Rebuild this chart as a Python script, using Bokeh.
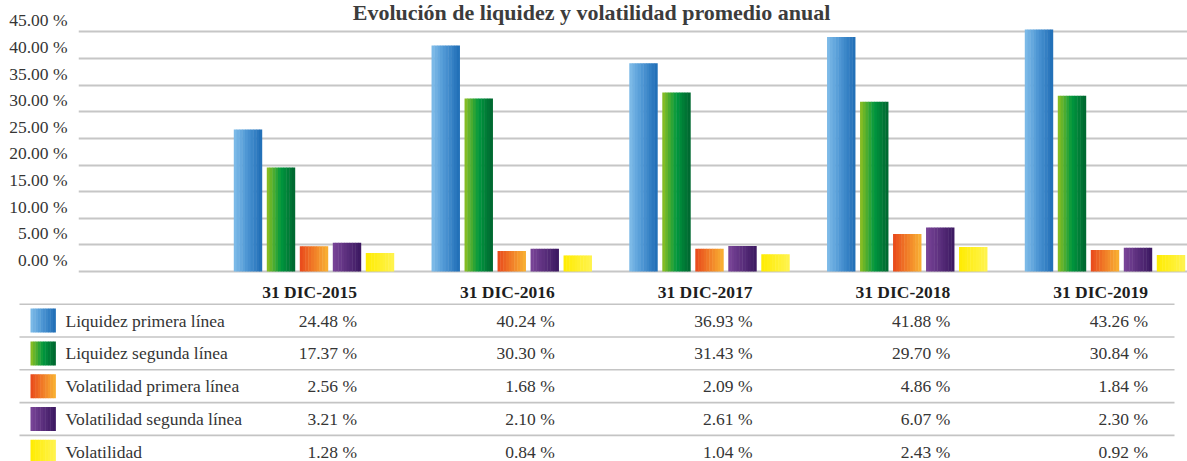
import numpy as np
from bokeh.plotting import figure
from bokeh.models import Range1d, FixedTicker, PrintfTickFormatter, ColumnDataSource, Label
from bokeh.layouts import column
from bokeh.core.properties import value
from bokeh.embed import file_html
from bokeh.resources import INLINE

# ---------------- data ----------------
TITLE = "Evolución de liquidez y volatilidad promedio anual"
categories = ["31 DIC-2015", "31 DIC-2016", "31 DIC-2017", "31 DIC-2018", "31 DIC-2019"]
series_names = ["Liquidez primera línea", "Liquidez segunda línea",
                "Volatilidad primera línea", "Volatilidad segunda línea", "Volatilidad"]
liquidez_primera = [24.48, 40.24, 36.93, 41.88, 43.26]
liquidez_segunda = [17.37, 30.30, 31.43, 29.70, 30.84]
volatilidad_primera = [2.56, 1.68, 2.09, 4.86, 1.84]
volatilidad_segunda = [3.21, 2.10, 2.61, 6.07, 2.30]
volatilidad = [1.28, 0.84, 1.04, 2.43, 0.92]
y_ticks = [0, 5, 10, 15, 20, 25, 30, 35, 40, 45]

series_values = [liquidez_primera, liquidez_segunda, volatilidad_primera,
                 volatilidad_segunda, volatilidad]

# ---------------- styles ----------------
gradients = [
    ["#80bde9", "#4a93d2", "#1f6db5"],
    ["#93c021", "#00983f", "#00652f"],
    ["#e8481c", "#f9b233"],
    ["#7a4599", "#3b1860"],
    ["#ffec00", "#fff350"],
]
SERIF_B = "Liberation Serif"
SERIF = "serif"
TEXT_COLOR = "#353535"
N_STRIPS = 10

# layout (page pixels)
FIG_W = 1187
FRAME_L, FRAME_R = 78, 1187
GROUP0, GROUP_PITCH = 313.5, 197.75
BAR_PITCH_PX, BAR_W_PX = 33.0, 28.0
CH_TOP, CH_BOT = 0, 275
ZERO_Y, PX_PER_PCT, BASE_Y = 259.4, 5.325, 271.0
TB_TOP, TB_BOT = 275, 461


def hex2rgb(h):
    return np.array([int(h[i:i + 2], 16) for i in (1, 3, 5)], dtype=float)


def gradient_colors(stops, n):
    rgb = [hex2rgb(s) for s in stops]
    out = []
    for k in range(n):
        tt = (k + 0.5) / n * (len(rgb) - 1)
        i = min(int(tt), len(rgb) - 2)
        f = tt - i
        c = rgb[i] * (1 - f) + rgb[i + 1] * f
        out.append("#%02x%02x%02x" % tuple(int(round(v)) for v in c))
    return out


# ---------------- chart ----------------
x_start = -(GROUP0 - FRAME_L) / GROUP_PITCH
x_end = x_start + (FRAME_R - FRAME_L) / GROUP_PITCH
y_hi = (ZERO_Y - CH_TOP) / PX_PER_PCT
y_lo = (ZERO_Y - CH_BOT) / PX_PER_PCT
BASE = (ZERO_Y - BASE_Y) / PX_PER_PCT

bar_pitch = BAR_PITCH_PX / GROUP_PITCH
bar_w = BAR_W_PX / GROUP_PITCH

p = figure(width=FIG_W, height=CH_BOT - CH_TOP,
           x_range=Range1d(x_start, x_end), y_range=Range1d(y_lo, y_hi),
           x_axis_location=None, output_backend="svg", toolbar_location=None,
           min_border=0, min_border_left=FRAME_L)
p.frame_align = False
p.outline_line_color = None
p.background_fill_color = "white"
p.xgrid.visible = False
p.ygrid.ticker = FixedTicker(ticks=[BASE + v for v in y_ticks])
p.ygrid.grid_line_color = "#c6c6c6"
p.ygrid.grid_line_width = 2

ax = p.yaxis[0]
ax.ticker = FixedTicker(ticks=y_ticks)
ax.formatter = PrintfTickFormatter(format="%.2f %%")
ax.axis_line_color = None
ax.major_tick_line_color = None
ax.major_tick_out = 0
ax.major_tick_in = 0
ax.minor_tick_line_color = None
ax.major_label_text_font = SERIF
ax.major_label_text_font_size = "17.5px"
ax.major_label_text_color = TEXT_COLOR
ax.major_label_standoff = 11

for j, vals in enumerate(series_values):
    cols = gradient_colors(gradients[j], N_STRIPS)
    xs, tops, colors = [], [], []
    sw = bar_w / N_STRIPS
    for i, v in enumerate(vals):
        left = i + (j - 2) * bar_pitch - bar_w / 2
        for k in range(N_STRIPS):
            xs.append(left + (k + 0.5) * sw)
            tops.append(v)
            colors.append(cols[k])
    src = ColumnDataSource(dict(x=xs, top=tops, color=colors))
    p.vbar(x="x", top="top", bottom=BASE, width=sw * 1.15, fill_color="color",
           line_color=None, source=src)

title_x = x_start + (591 - FRAME_L) / GROUP_PITCH
title_y = (ZERO_Y - 11.5) / PX_PER_PCT
p.add_layout(Label(x=title_x, y=title_y, text=TITLE, text_align="center",
                   text_baseline="alphabetic", text_font=SERIF_B, text_font_style="bold",
                   text_font_size="22px", text_color="#3c3c3c"))

# ---------------- table ----------------
t = figure(width=FIG_W, height=TB_BOT - TB_TOP,
           x_range=Range1d(0, FIG_W), y_range=Range1d(TB_BOT, TB_TOP),
           x_axis_location=None, y_axis_location=None, output_backend="svg",
           toolbar_location=None, min_border=0)
t.frame_align = False
t.outline_line_color = None
t.grid.visible = False

HEADER_Y, FIRST_LINE, ROW_H = 291, 303.7, 32.8
col_right = [GROUP0 + i * GROUP_PITCH + 43 for i in range(len(categories))]

t.text(x=col_right, y=[HEADER_Y] * len(categories), text=categories,
       text_font=value(SERIF_B), text_font_style="bold", text_font_size=value("17.5px"),
       text_color="#1e1e1e", text_align="right", text_baseline="middle")

line_ys = [FIRST_LINE + r * ROW_H for r in range(len(series_names))]
t.segment(x0=19, x1=1174, y0=line_ys, y1=line_ys, line_color="#c4c4c4", line_width=1.6)

row_c = [y + ROW_H / 2 for y in line_ys]
t.text(x=65, y=row_c, text=series_names, text_font=value(SERIF),
       text_font_size=value("17.5px"), text_color=TEXT_COLOR,
       text_align="left", text_baseline="middle")

for j, vals in enumerate(series_values):
    t.text(x=col_right, y=[row_c[j]] * len(vals), text=["%.2f %%" % v for v in vals],
           text_font=value(SERIF), text_font_size=value("17.5px"), text_color=TEXT_COLOR,
           text_align="right", text_baseline="middle")
    cols = gradient_colors(gradients[j], N_STRIPS)
    sw = 25.0 / N_STRIPS
    lefts = [30 + k * sw for k in range(N_STRIPS)]
    t.quad(left=lefts, right=[l + sw * 1.15 for l in lefts],
           top=row_c[j] - 12, bottom=row_c[j] + 12, fill_color=cols, line_color=None)

layout = column(p, t)
open("out.html", "w").write(file_html(layout, INLINE))
